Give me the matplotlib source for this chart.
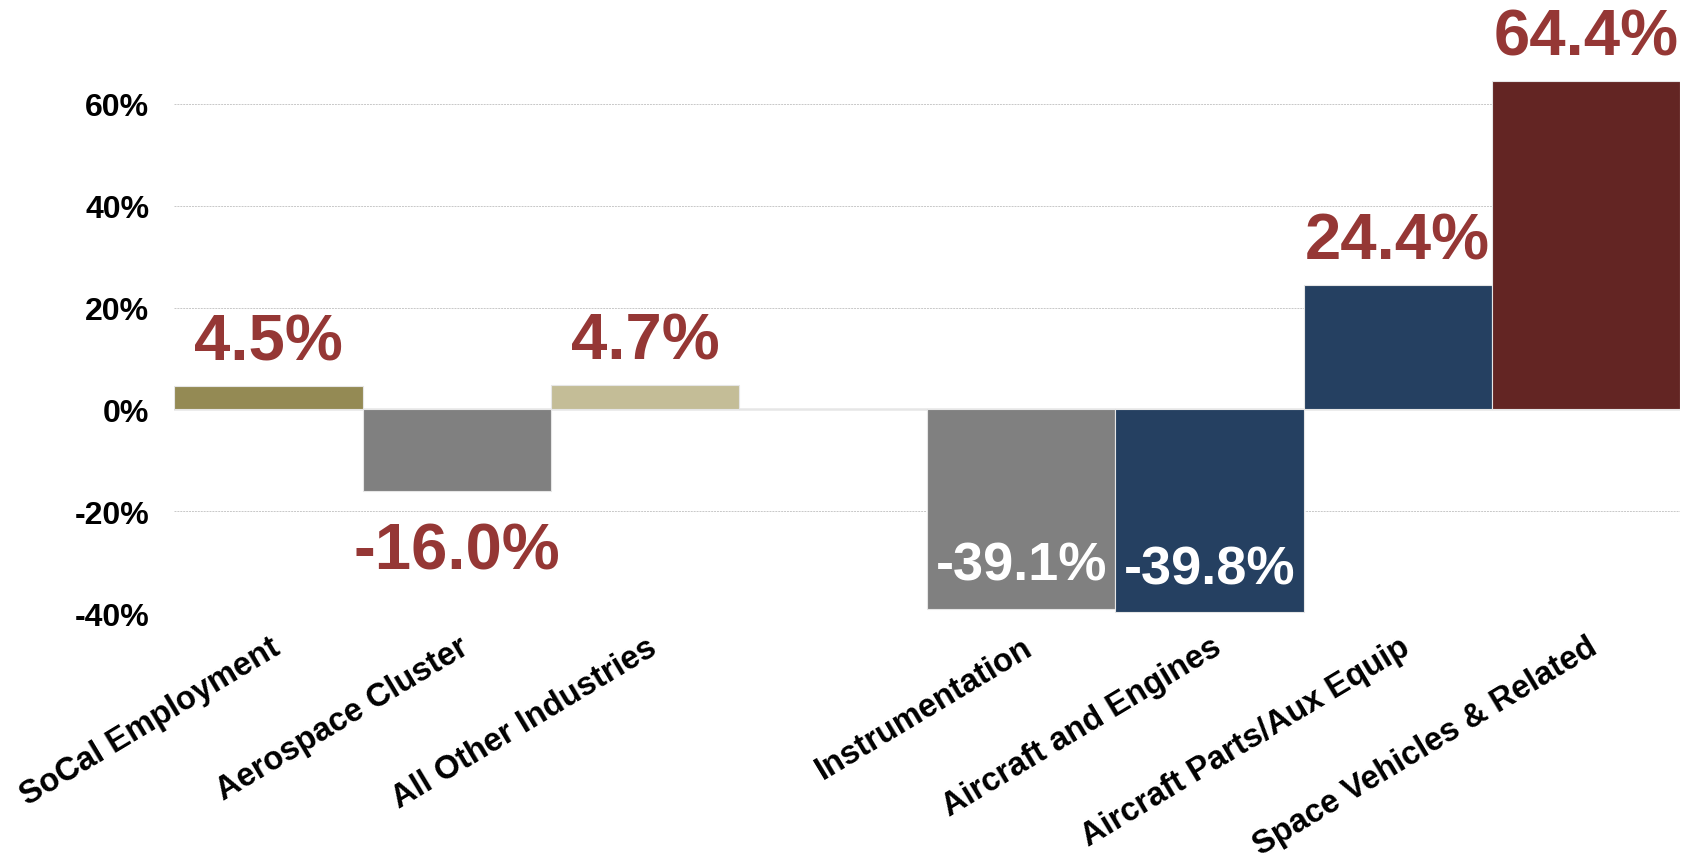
import numpy as np
import matplotlib.pyplot as plt
import matplotlib.transforms as mtransforms
from matplotlib.ticker import FuncFormatter

plt.rcParams['font.family'] = ['Liberation Sans', 'DejaVu Sans']

# chart data
categories = ["SoCal Employment", "Aerospace Cluster", "All Other Industries", "",
              "Instrumentation", "Aircraft and Engines", "Aircraft Parts/Aux Equip",
              "Space Vehicles & Related"]
changes = [4.5, -16.0, 4.7, np.nan, -39.1, -39.8, 24.4, 64.4]
colors = ["#948A54", "#808080", "#C4BD97", "white",
          "#808080", "#254061", "#254061", "#632523"]
y_ticks = [-40, -20, 0, 20, 40, 60]

label_red = "#953735"

fig = plt.figure(figsize=(16.89, 8.62), dpi=100)
ax = fig.add_axes([0.1033, 0.2875, 0.8914, 0.6501])

x = np.arange(len(categories))
vals = np.array(changes) / 100
ax.bar(x, np.nan_to_num(vals), width=1.0, color=colors,
       edgecolor="#E6E6E6", linewidth=0.8, zorder=3)

ax.set_xlim(-0.5, len(categories) - 0.5)
ax.set_ylim(-0.40, 0.70)
ax.set_yticks([t / 100 for t in y_ticks])
ax.yaxis.set_major_formatter(FuncFormatter(lambda v, p: f"{v*100:.0f}%"))
ax.tick_params(axis='y', length=0, pad=18, labelsize=23)
for t in ax.get_yticklabels():
    t.set_fontweight('bold')

ax.grid(axis='y', color='#C8C8C8', linestyle=(0, (2, 1)), linewidth=0.7, zorder=0)
ax.axhline(0, color='#A6A6A6', linewidth=1.0, zorder=2)
for s in ax.spines.values():
    s.set_visible(False)

ax.set_xticks(x)
ax.set_xticklabels(categories, rotation=31, ha='right', rotation_mode='anchor',
                   fontsize=23.5, fontweight='bold')
ax.tick_params(axis='x', length=0, pad=13)
# nudge category labels so their right end sits by the bar centre
offset = mtransforms.ScaledTranslation(0.01, 0.0, fig.dpi_scale_trans)
for t in ax.get_xticklabels():
    t.set_transform(t.get_transform() + offset)

for xi, v in zip(x, changes):
    if np.isnan(v):
        continue
    txt = f"{v:.1f}%"
    if v >= 0:
        ax.annotate(txt, (xi, v / 100), xytext=(0, 10), textcoords='offset points',
                    ha='center', va='bottom', fontsize=47, fontweight='bold',
                    color=label_red, zorder=4)
    elif v > -30:
        ax.annotate(txt, (xi, v / 100), xytext=(0, -22), textcoords='offset points',
                    ha='center', va='top', fontsize=47, fontweight='bold',
                    color=label_red, zorder=4)
    else:
        ax.annotate(txt, (xi, v / 100), xytext=(0, 13), textcoords='offset points',
                    ha='center', va='bottom', fontsize=39, fontweight='bold',
                    color='white', zorder=4)

fig.savefig("out.png", dpi=100)
